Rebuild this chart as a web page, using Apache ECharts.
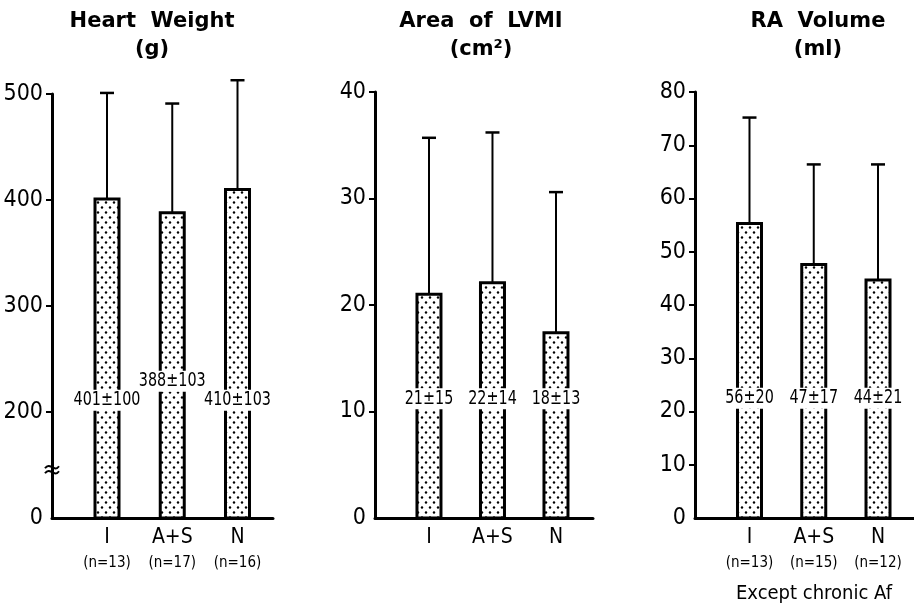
<!DOCTYPE html>
<html><head><meta charset="utf-8">
<script src="https://cdn.jsdelivr.net/npm/echarts@6/dist/echarts.min.js"></script>
<style>html,body{margin:0;background:#fff}#c{width:914px;height:607px}</style>
</head><body><div id="c"></div>
<script>
// ---------- data ----------
const categories = ['I', 'A+S', 'N'];

// Heart weight (g)  (axis broken: "0" drawn at the 100 position)
const heartMean   = [401, 388, 410];
const heartErrTop = [501, 491, 513];
const heartText   = ['401±100', '388±103', '410±103'];
const heartN      = ['(n=13)', '(n=17)', '(n=16)'];
const heartTicks  = [100, 200, 300, 400, 500];
const heartTickLabels = ['0', '200', '300', '400', '500'];

// Area of LVMI (cm²)
const lvmiMean   = [21.0, 22.1, 17.4];
const lvmiErrTop = [35.7, 36.2, 30.6];
const lvmiText   = ['21±15', '22±14', '18±13'];
const lvmiTicks  = [0, 10, 20, 30, 40];

// RA volume (ml)
const raMean   = [55.3, 47.6, 44.7];
const raErrTop = [75.2, 66.4, 66.4];
const raText   = ['56±20', '47±17', '44±21'];
const raN      = ['(n=13)', '(n=15)', '(n=12)'];
const raTicks  = [0, 10, 20, 30, 40, 50, 60, 70, 80];

// ---------- layout / style ----------
const NARROW = "'DejaVu Sans Condensed','Liberation Sans Narrow',sans-serif";
const BOLD = "'DejaVu Sans','Liberation Sans',sans-serif";
const labelAt = [[211, 229, 211], [11.2, 11.2, 11.2], [22.5, 22.5, 22.5]];
const BAR_W = 24;

// dotted fill pattern
const pat = document.createElement('canvas');
pat.width = 8; pat.height = 10;
(function () {
  const g = pat.getContext('2d');
  g.fillStyle = '#fff'; g.fillRect(0, 0, 8, 10);
  g.fillStyle = '#000';
  g.beginPath(); g.arc(2, 2.5, 1.2, 0, Math.PI * 2); g.fill();
  g.beginPath(); g.arc(6, 7.5, 1.2, 0, Math.PI * 2); g.fill();
})();

function makeRender(yMin, texts) {
  return function (params, api) {
    const i = params.dataIndex;
    const x = api.value(0), v = api.value(1), e = api.value(2), ly = api.value(3);
    const base = api.coord([x, yMin]);
    const top = api.coord([x, v]);
    const et = api.coord([x, e]);
    const lp = api.coord([x, ly]);
    const px = base[0];
    return {
      type: 'group',
      children: [
        { type: 'line', shape: { x1: px, y1: top[1], x2: px, y2: et[1] },
          style: { stroke: '#000', lineWidth: 2 } },
        { type: 'line', shape: { x1: px - 7, y1: et[1], x2: px + 7, y2: et[1] },
          style: { stroke: '#000', lineWidth: 2.5 } },
        { type: 'rect', shape: { x: px - BAR_W / 2, y: top[1], width: BAR_W, height: base[1] - top[1] },
          style: { fill: { image: pat, repeat: 'repeat' }, stroke: '#000', lineWidth: 3 } },
        { type: 'text', x: px, y: lp[1], scaleX: 0.84,
          style: { text: texts[i], align: 'center', verticalAlign: 'middle',
                   font: '19px ' + NARROW, fill: '#000',
                   backgroundColor: '#fff', padding: [1, 1] } }
      ]
    };
  };
}

function xAxisDef(gi, min, max, nLabels) {
  return {
    type: 'value', gridIndex: gi, min: min, max: max,
    splitLine: { show: false },
    axisLine: { show: true, lineStyle: { color: '#000', width: 3 } },
    axisTick: { show: false },
    axisLabel: {
      customValues: [1, 2, 3], margin: 8,
      formatter: function (v) {
        const k = Math.round(v) - 1;
        return nLabels ? '{a|' + categories[k] + '}\n{b|' + nLabels[k] + '}' : '{a|' + categories[k] + '}';
      },
      rich: {
        a: { fontFamily: NARROW, fontSize: 21, lineHeight: 23, color: '#000' },
        b: { fontFamily: NARROW, fontSize: 15, lineHeight: 28, color: '#000' }
      }
    }
  };
}

function yAxisDef(gi, ticks, tickLabels) {
  return {
    type: 'value', gridIndex: gi,
    min: ticks[0], max: ticks[ticks.length - 1], interval: ticks[1] - ticks[0],
    splitLine: { show: false },
    axisLine: { show: true, lineStyle: { color: '#000', width: 3 } },
    axisTick: { show: true, customValues: ticks.slice(1), length: 6, lineStyle: { color: '#000', width: 2 } },
    axisLabel: {
      customValues: ticks, margin: 9, color: '#000', fontFamily: NARROW, fontSize: 23,
      formatter: function (v) {
        if (tickLabels) { const k = ticks.indexOf(v); return k >= 0 ? tickLabels[k] : ''; }
        return String(v);
      }
    }
  };
}

function seriesData(mean, errTop, lab) {
  return categories.map((c, i) => [i + 1, mean[i], errTop[i], lab[i]]);
}

const chart = echarts.init(document.getElementById('c'), null, { renderer: 'canvas' });
const option = {
  animation: false,
  backgroundColor: '#fff',
  grid: [
    { left: 52, top: 94, width: 221, height: 424 },
    { left: 375, top: 92, width: 218, height: 426 },
    { left: 695, top: 92, width: 219, height: 426 }
  ],
  xAxis: [
    xAxisDef(0, 0.157, 3.544, heartN),
    xAxisDef(1, 0.150, 3.583, null),
    xAxisDef(2, 0.152, 3.56, raN)
  ],
  yAxis: [
    yAxisDef(0, heartTicks, heartTickLabels),
    yAxisDef(1, lvmiTicks, null),
    yAxisDef(2, raTicks, null)
  ],
  series: [
    { type: 'custom', xAxisIndex: 0, yAxisIndex: 0, renderItem: makeRender(heartTicks[0], heartText),
      data: seriesData(heartMean, heartErrTop, labelAt[0]), clip: false },
    { type: 'custom', xAxisIndex: 1, yAxisIndex: 1, renderItem: makeRender(lvmiTicks[0], lvmiText),
      data: seriesData(lvmiMean, lvmiErrTop, labelAt[1]), clip: false },
    { type: 'custom', xAxisIndex: 2, yAxisIndex: 2, renderItem: makeRender(raTicks[0], raText),
      data: seriesData(raMean, raErrTop, labelAt[2]), clip: false }
  ],
  graphic: [
    { type: 'text', x: 152, y: 22, style: { text: 'Heart  Weight', align: 'center', verticalAlign: 'middle', font: 'bold 21px ' + BOLD, fill: '#000' } },
    { type: 'text', x: 152, y: 50, style: { text: '(g)', align: 'center', verticalAlign: 'middle', font: 'bold 21px ' + BOLD, fill: '#000' } },
    { type: 'text', x: 481, y: 22, style: { text: 'Area  of  LVMI', align: 'center', verticalAlign: 'middle', font: 'bold 21px ' + BOLD, fill: '#000' } },
    { type: 'text', x: 481, y: 50, style: { text: '(cm²)', align: 'center', verticalAlign: 'middle', font: 'bold 21px ' + BOLD, fill: '#000' } },
    { type: 'text', x: 818, y: 22, style: { text: 'RA  Volume', align: 'center', verticalAlign: 'middle', font: 'bold 21px ' + BOLD, fill: '#000' } },
    { type: 'text', x: 818, y: 50, style: { text: '(ml)', align: 'center', verticalAlign: 'middle', font: 'bold 21px ' + BOLD, fill: '#000' } },
    { type: 'text', x: 814, y: 594, style: { text: 'Except chronic Af', align: 'center', verticalAlign: 'middle', font: '20px ' + NARROW, fill: '#000' } }
  ]
};
chart.setOption(option);

// axis-break mark on the heart-weight axis
const bp = chart.convertToPixel({ gridIndex: 0 }, [0.157, 146]);
const bx = bp[0], by = bp[1];
chart.setOption({
  graphic: option.graphic.concat([
    { type: 'rect', shape: { x: bx - 3, y: by - 2, width: 6, height: 4 }, style: { fill: '#fff' } },
    { type: 'bezierCurve', shape: { x1: bx - 7, y1: by - 1, x2: bx + 7, y2: by - 3, cpx1: bx - 2, cpy1: by - 8, cpx2: bx + 2, cpy2: by + 4 },
      style: { stroke: '#000', lineWidth: 2, fill: null } },
    { type: 'bezierCurve', shape: { x1: bx - 7, y1: by + 4, x2: bx + 7, y2: by + 2, cpx1: bx - 2, cpy1: by - 3, cpx2: bx + 2, cpy2: by + 9 },
      style: { stroke: '#000', lineWidth: 2, fill: null } }
  ])
});
</script>
</body></html>
